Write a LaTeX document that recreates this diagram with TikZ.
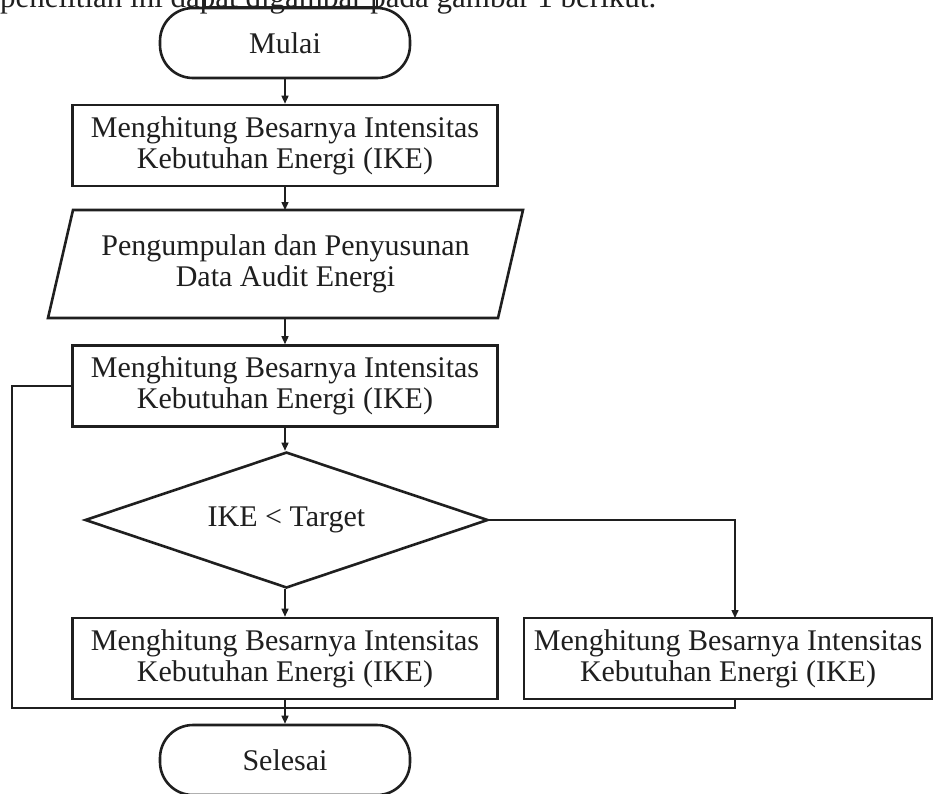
\documentclass[tikz,border=0pt]{standalone}
\usepackage{fontspec}
\setmainfont{Liberation Serif}
\usetikzlibrary{arrows.meta,shapes.geometric}
\definecolor{ink}{gray}{0.12}
\begin{document}
\begin{tikzpicture}[x=1pt,y=-1pt,
 txt/.style={font=\fontsize{30}{31}\selectfont, align=center, text=ink},
 procbox/.style={txt, draw=ink, line width=2.6pt, minimum width=425pt, minimum height=81pt, inner sep=0pt},
 term/.style={txt, draw=ink, line width=2.6pt, rounded corners=33pt, minimum width=250pt, minimum height=70pt, inner sep=0pt},
 dec/.style={txt, draw=ink, diamond, aspect=2.96, line width=2.6pt, minimum width=403pt, minimum height=136pt, inner sep=0pt},
 conn/.style={draw=ink, line width=1.4pt},
 arr/.style={conn, -{Triangle[length=8pt,width=7pt]}}]
\useasboundingbox (0,0) rectangle (936,793);
\clip (0,0) rectangle (936,793);
\fill[white] (0,0) rectangle (936,793);
% cut-off line of text above the figure
\node[txt, anchor=base west, inner sep=0pt, font=\fontsize{31}{32}\selectfont] (intro) at (0,7) {penelitian ini dapat digambar pada gambar 1 berikut.};
\draw[ink, line width=1.5pt] (205,0) -- (205,7) -- (377,7) -- (377,0);
% nodes
\node[term] (mulai) at (285,43) {Mulai};
\node[procbox] (ike1) at (285,145.5) {Menghitung Besarnya Intensitas\\Kebutuhan Energi (IKE)};
\draw[ink, line width=2.6pt, line join=miter] (73,210) -- (523,210) -- (498,318) -- (48,318) -- cycle;
\node[txt] (data) at (285.5,264) {Pengumpulan dan Penyusunan\\Data Audit Energi};
\coordinate (ptop) at (285,210);
\coordinate (pbot) at (285,318);
\node[procbox] (ike2) at (285,386) {Menghitung Besarnya Intensitas\\Kebutuhan Energi (IKE)};
\node[dec] (cek) at (286.5,520) {IKE < Target};
\node[procbox] (ike3) at (285,658.5) {Menghitung Besarnya Intensitas\\Kebutuhan Energi (IKE)};
\node[procbox, minimum width=408pt] (ike4) at (728,658.5) {Menghitung Besarnya Intensitas\\Kebutuhan Energi (IKE)};
\node[term] (selesai) at (285,760) {Selesai};
% helper coordinates
\coordinate (r4in) at (735,618);
\coordinate (r4out) at (735,699);
\coordinate (lc) at (12,708);
\coordinate (join) at (285,708);
% connectors
\draw[arr] (mulai.south) -- (ike1.north);
\draw[arr] (ike1.south) -- (ptop);
\draw[arr] (pbot) -- (ike2.north);
\draw[arr] (ike2.south) -- (cek.north -| ike2.south);
\draw[arr] (cek.south -| ike3.north) -- (ike3.north);
\draw[arr] (cek.east) -| (r4in);
\draw[conn] (ike2.west) -| (lc) -- (join);
\draw[conn] (r4out) |- (join);
\draw[arr] (ike3.south) -- (selesai.north);
\end{tikzpicture}
\end{document}
